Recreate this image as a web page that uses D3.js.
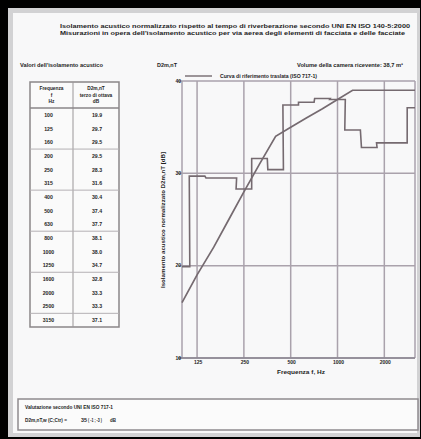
<!DOCTYPE html>
<html><head><meta charset="utf-8">
<script src="https://cdn.jsdelivr.net/npm/d3@7"></script>
<style>
html,body{margin:0;padding:0;background:#000;overflow:hidden}
svg{display:block}
text{font-family:"Liberation Sans",Arial,sans-serif;fill:#1e1e1e;font-weight:bold}
</style>
</head><body>
<svg id="c" width="421" height="439"></svg>
<script>
// ---- data ----
const frequencies = [100,125,160,200,250,315,400,500,630,800,1000,1250,1600,2000,2500,3150];
const measured    = [19.9,29.7,29.5,29.5,28.3,31.6,30.4,37.4,37.7,38.1,38.0,34.7,32.8,33.3,33.3,37.1];
const reference   = [16,19,22,25,28,31,34,35,36,37,38,39,39,39,39,39];
const xTicks = [125,250,500,1000,2000];
const yTicks = [10,20,30,40];
const titleLines = [
  "Isolamento acustico normalizzato rispetto al tempo di riverberazione secondo UNI EN ISO 140-5:2000",
  "Misurazioni in opera dell'isolamento acustico per via aerea degli elementi di facciata e delle facciate"
];
const tableTitle = "Valori dell'isolamento acustico";
const colHeader1 = ["Frequenza","f","Hz"];
const colHeader2 = ["D2m,nT","terzo di ottava","dB"];
const chartLabel = "D2m,nT";
const roomLabel = "Volume della camera ricevente: 38,7 m³";
const legendLabel = "Curva di riferimento traslata (ISO 717-1)";
const yTitle = "Isolamento acustico normalizzato D2m,nT [dB]";
const xTitle = "Frequenza f, Hz";
const evalTitle = "Valutazione secondo UNI EN ISO 717-1";
const evalParts = ["D2m,nT,w (C;Ctr) =", "35", "( -1 ; -3 )", "dB"];

const svg = d3.select("#c");
// page
svg.append("rect").attr("x",0).attr("y",0).attr("width",421).attr("height",439).attr("fill","#000");
svg.append("rect").attr("x",8).attr("y",8).attr("width",412).attr("height",429).attr("fill","#d2d2d4");
svg.append("rect").attr("x",13).attr("y",13).attr("width",404).attr("height",420).attr("fill","#f8f8f9");

// titles
titleLines.forEach((t,i)=>{
  svg.append("text").attr("x",60).attr("y",28+i*6.5).attr("font-size",5.8)
    .attr("textLength", i===0?350:345).attr("lengthAdjust","spacingAndGlyphs").text(t);
});

// ---- table ----
svg.append("text").attr("x",20).attr("y",67).attr("font-size",5.5)
  .attr("textLength",83).attr("lengthAdjust","spacingAndGlyphs").text(tableTitle);
const tL=30,tR=119,tT=82,tH=108,tB=327,tC=73;
const rowH=(tB-tH)/frequencies.length;
const tg=svg.append("g");
tg.append("rect").attr("x",tL).attr("y",tT).attr("width",tR-tL).attr("height",tB-tT)
  .attr("fill","#fafafa").attr("stroke","#8a8688").attr("stroke-width",1.5);
tg.append("line").attr("x1",tC).attr("x2",tC).attr("y1",tT).attr("y2",tB).attr("stroke","#9a9698").attr("stroke-width",1);
tg.append("line").attr("x1",tL).attr("x2",tR).attr("y1",tH).attr("y2",tH).attr("stroke","#8a8688").attr("stroke-width",1.5);
colHeader1.forEach((t,i)=>tg.append("text").attr("x",(tL+tC)/2).attr("y",90+i*6.5).attr("font-size",4.8).attr("text-anchor","middle").text(t));
colHeader2.forEach((t,i)=>tg.append("text").attr("x",(tC+tR)/2).attr("y",90+i*6.5).attr("font-size",4.8).attr("text-anchor","middle").text(t));
frequencies.forEach((f,i)=>{
  const yc=tH+rowH*(i+0.5);
  tg.append("text").attr("x",(tL+tC)/2-3).attr("y",yc+2).attr("font-size",5.2).attr("text-anchor","middle").text(f);
  tg.append("text").attr("x",(tC+tR)/2+1).attr("y",yc+2).attr("font-size",5.2).attr("text-anchor","middle").text(measured[i].toFixed(1));
  if(i%3===2 && i<frequencies.length-1){
    tg.append("line").attr("x1",tL).attr("x2",tR).attr("y1",tH+rowH*(i+1)).attr("y2",tH+rowH*(i+1))
      .attr("stroke","#b4b0b4").attr("stroke-width",1);
  }
});

// ---- chart ----
const L=182,R=415,T=81,B=358;
const x=d3.scaleLog().domain([100,3150]).range([L,R]);
const y=d3.scaleLinear().domain([10,40]).range([B,T]);
const gridCol="#aaa2ac";
const g=svg.append("g");
g.selectAll(".vg").data(xTicks).join("line").attr("x1",d=>x(d)).attr("x2",d=>x(d)).attr("y1",T).attr("y2",B)
  .attr("stroke",gridCol).attr("stroke-width",1.5);
g.selectAll(".hg").data(yTicks).join("line").attr("x1",L-4).attr("x2",R).attr("y1",d=>y(d)).attr("y2",d=>y(d))
  .attr("stroke",gridCol).attr("stroke-width",1.5);
g.append("line").attr("x1",L).attr("x2",L).attr("y1",T).attr("y2",B).attr("stroke",gridCol).attr("stroke-width",1.5);
g.append("line").attr("x1",R).attr("x2",R).attr("y1",T).attr("y2",B).attr("stroke",gridCol).attr("stroke-width",1.5);
g.append("line").attr("x1",L-4).attr("x2",R).attr("y1",B).attr("y2",B).attr("stroke","#8a8490").attr("stroke-width",1.6);

// ticks labels
g.selectAll(".yl").data(yTicks).join("text").attr("x",L-1).attr("y",d=>y(d)+1.8).attr("font-size",5)
  .attr("text-anchor","end").text(d=>d);
g.selectAll(".xl").data(xTicks).join("text").attr("x",d=>x(d)+1).attr("y",B+6).attr("font-size",5)
  .attr("text-anchor","middle").text(d=>d);

// step line (measured)
const [d0,d1]=x.domain();
const stepPts=[];
frequencies.forEach((f,i)=>{
  const lo=Math.max(f/Math.pow(2,1/6),d0), hi=Math.min(f*Math.pow(2,1/6),d1);
  stepPts.push([x(lo),y(measured[i])]); stepPts.push([x(hi),y(measured[i])]);
});
const lineCol="#756a70";
g.append("path").attr("d",d3.line()(stepPts)).attr("fill","none").attr("stroke",lineCol).attr("stroke-width",1.6);
// reference curve
g.append("path").attr("d",d3.line().x((d,i)=>x(frequencies[i])).y(d=>y(d))(reference))
  .attr("fill","none").attr("stroke",lineCol).attr("stroke-width",1.7);

// chart labels
svg.append("text").attr("x",157).attr("y",67).attr("font-size",5.2).attr("textLength",20).attr("lengthAdjust","spacingAndGlyphs").text(chartLabel);
svg.append("text").attr("x",297).attr("y",67).attr("font-size",5.2).attr("textLength",106).attr("lengthAdjust","spacingAndGlyphs").text(roomLabel);
svg.append("line").attr("x1",185).attr("x2",212).attr("y1",76).attr("y2",76).attr("stroke",lineCol).attr("stroke-width",1.4);
svg.append("text").attr("x",220).attr("y",77.8).attr("font-size",4.8).attr("textLength",97).attr("lengthAdjust","spacingAndGlyphs").text(legendLabel);
svg.append("text").attr("transform","translate(165,220) rotate(-90)").attr("font-size",5).attr("text-anchor","middle")
  .attr("textLength",136).attr("lengthAdjust","spacingAndGlyphs").text(yTitle);
svg.append("text").attr("x",301).attr("y",374).attr("font-size",5).attr("text-anchor","middle")
  .attr("textLength",48).attr("lengthAdjust","spacingAndGlyphs").text(xTitle);

// evaluation box
svg.append("rect").attr("x",18).attr("y",399).attr("width",400).attr("height",31)
  .attr("fill","#fbfbfb").attr("stroke","#8e8a8e").attr("stroke-width",1.5);
svg.append("text").attr("x",25).attr("y",408.5).attr("font-size",5.2).attr("textLength",88).attr("lengthAdjust","spacingAndGlyphs").text(evalTitle);
const ex=[25,81,88,110], ew=[42,6,14,6];
evalParts.forEach((t,i)=>svg.append("text").attr("x",ex[i]).attr("y",421.5).attr("font-size",5.2)
  .attr("textLength",ew[i]).attr("lengthAdjust","spacingAndGlyphs").text(t));
</script>
</body></html>
